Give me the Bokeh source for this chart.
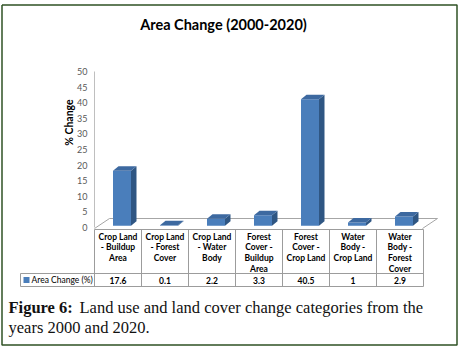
import math
from bokeh.plotting import figure
from bokeh.models import Range1d, FixedTicker, Label
from bokeh.core.properties import value
from bokeh.embed import file_html
from bokeh.resources import INLINE

# ---------------- data ----------------
categories = [
    "Crop Land\n- Buildup\nArea",
    "Crop Land\n- Forest\nCover",
    "Crop Land\n- Water\nBody",
    "Forest\nCover -\nBuildup\nArea",
    "Forest\nCover -\nCrop Land",
    "Water\nBody -\nCrop Land",
    "Water\nBody -\nForest\nCover",
]
area_change = [17.6, 0.1, 2.2, 3.3, 40.5, 1, 2.9]
value_labels = ["17.6", "0.1", "2.2", "3.3", "40.5", "1", "2.9"]
y_ticks = [0, 5, 10, 15, 20, 25, 30, 35, 40, 45, 50]
series_name = "Area Change (%)"
title_text = "Area Change (2000-2020)"
y_title = "% Change"
caption_bold = "Figure 6:"
caption_line1 = "Land use and land cover change categories from the"
caption_line2 = "years 2000 and 2020."

# ---------------- layout helpers (pixel -> data) ----------------
W, H = 463, 349
COL0, COLW = 117.5, 47.0      # centre of first category column, column width (px)
ZERO, PPU = 227.0, 3.12       # pixel row of value 0, pixels per unit


def cx(px):
    return (px - COL0) / COLW


def cy(py):
    return (ZERO - py) / PPU


FRONT = "#4A7EBB"
TOPC = "#3D69A0"
SIDE = "#2F5683"
GRID = "#A6A6A6"
TABLE = "#9C9C9C"
GREEN = "#2F5224"

p = figure(width=W, height=H,
           x_range=Range1d(cx(0), cx(W)), y_range=Range1d(cy(H), cy(0)),
           output_backend="svg", toolbar_location=None,
           min_border_left=0, min_border_right=0, min_border_top=0, min_border_bottom=0)
p.outline_line_color = None
p.background_fill_color = "white"
p.border_fill_color = "white"
p.grid.visible = False
p.xaxis.visible = False

yax = p.yaxis[0]
yax.fixed_location = cx(94)
yax.bounds = (0, 50)
yax.ticker = FixedTicker(ticks=y_ticks)
yax.minor_tick_line_color = None
yax.major_tick_line_color = None
yax.major_tick_in = 0
yax.major_tick_out = 0
yax.axis_line_color = "#BFBFBF"
yax.major_label_text_font = "Lato"
yax.major_label_text_font_size = "9px"
yax.major_label_text_color = "#595959"
yax.major_label_standoff = 7

# y-axis title (Excel places it above the axis centre)
p.add_layout(Label(x=cx(68.5), y=cy(122), text=y_title, angle=math.pi / 2,
                   text_align="center", text_baseline="middle",
                   text_font="Lato", text_font_style="bold",
                   text_font_size="10.5px", text_color="#000000"))

# ---------------- 3D floor ----------------
p.multi_line(xs=[[cx(94), cx(109), cx(437), cx(422)]],
             ys=[[cy(228), cy(218), cy(218), cy(228)]],
             line_color=GRID, line_width=1)

# ---------------- 3D bars ----------------
n = len(area_change)
off = 4.0 / COLW
hw = 9.0 / COLW
dx = 5.5 / COLW
dy = 4.5 / PPU
base = 0.6
xc = [i + off for i in range(n)]
left = [x - hw for x in xc]
right = [x + hw for x in xc]
tops = [base + v for v in area_change]

p.quad(left=left, right=right, bottom=base, top=tops,
       fill_color=FRONT, line_color=None)
side_xs = [[r, r + dx, r + dx, r] for r in right]
side_ys = [[base, base + dy, t + dy, t] for t in tops]
p.patches(xs=side_xs, ys=side_ys, fill_color=SIDE, line_color=None)
top_xs = [[l, l + dx, r + dx, r] for l, r in zip(left, right)]
top_ys = [[t, t + dy, t + dy, t] for t in tops]
p.patches(xs=top_xs, ys=top_ys, fill_color=TOPC, line_color=None)

# ---------------- data table ----------------
col_edges = [i - 0.5 for i in range(n + 1)]
seg_x0 = [e for e in col_edges] + [col_edges[0], cx(20), cx(20), cx(20)]
seg_x1 = [e for e in col_edges] + [col_edges[-1], col_edges[-1], col_edges[-1], cx(20)]
seg_y0 = [cy(229)] * len(col_edges) + [cy(229), cy(273), cy(286), cy(273)]
seg_y1 = [cy(286)] * len(col_edges) + [cy(229), cy(273), cy(286), cy(286)]
p.segment(x0=seg_x0, y0=seg_y0, x1=seg_x1, y1=seg_y1, line_color=TABLE, line_width=1)

cat_x = list(range(n))
p.text(x=cat_x, y=[cy(231)] * n, text=categories,
       text_font=value("Lato"), text_font_style="bold", text_font_size="8.5px",
       text_align="center", text_baseline="top", text_line_height=1.08,
       text_color="#000000")
p.text(x=cat_x, y=[cy(279.5)] * n, text=value_labels,
       text_font=value("Lato"), text_font_style="bold", text_font_size="8.5px",
       text_align="center", text_baseline="middle", text_color="#000000")

# legend key in table
p.quad(left=[cx(23)], right=[cx(29)], bottom=[cy(282.5)], top=[cy(276.5)],
       fill_color=FRONT, line_color=None)
p.text(x=[cx(31)], y=[cy(279.5)], text=[series_name],
       text_font=value("Lato"), text_font_size="8.5px",
       text_align="left", text_baseline="middle", text_color="#000000")

# ---------------- title & caption ----------------
p.add_layout(Label(x=cx(223), y=cy(24), text=title_text,
                   text_align="center", text_baseline="middle",
                   text_font="Lato", text_font_style="bold",
                   text_font_size="14.5px", text_color="#000000"))
p.add_layout(Label(x=cx(8), y=cy(307), text=caption_bold,
                   text_align="left", text_baseline="middle",
                   text_font="Liberation Serif", text_font_style="bold",
                   text_font_size="16.5px", text_color="#111111"))
p.add_layout(Label(x=cx(79), y=cy(307), text=caption_line1,
                   text_align="left", text_baseline="middle",
                   text_font="Liberation Serif",
                   text_font_size="16.5px", text_color="#111111"))
p.add_layout(Label(x=cx(8), y=cy(327), text=caption_line2,
                   text_align="left", text_baseline="middle",
                   text_font="Liberation Serif",
                   text_font_size="16.5px", text_color="#111111"))

# ---------------- outer frame ----------------
p.multi_line(xs=[[cx(1.5), cx(456.5), cx(456.5), cx(1.5), cx(1.5)]],
             ys=[[cy(4.5), cy(4.5), cy(344.5), cy(344.5), cy(4.5)]],
             line_color=GREEN, line_width=1.5)

open("out.html", "w").write(file_html(p, INLINE))
